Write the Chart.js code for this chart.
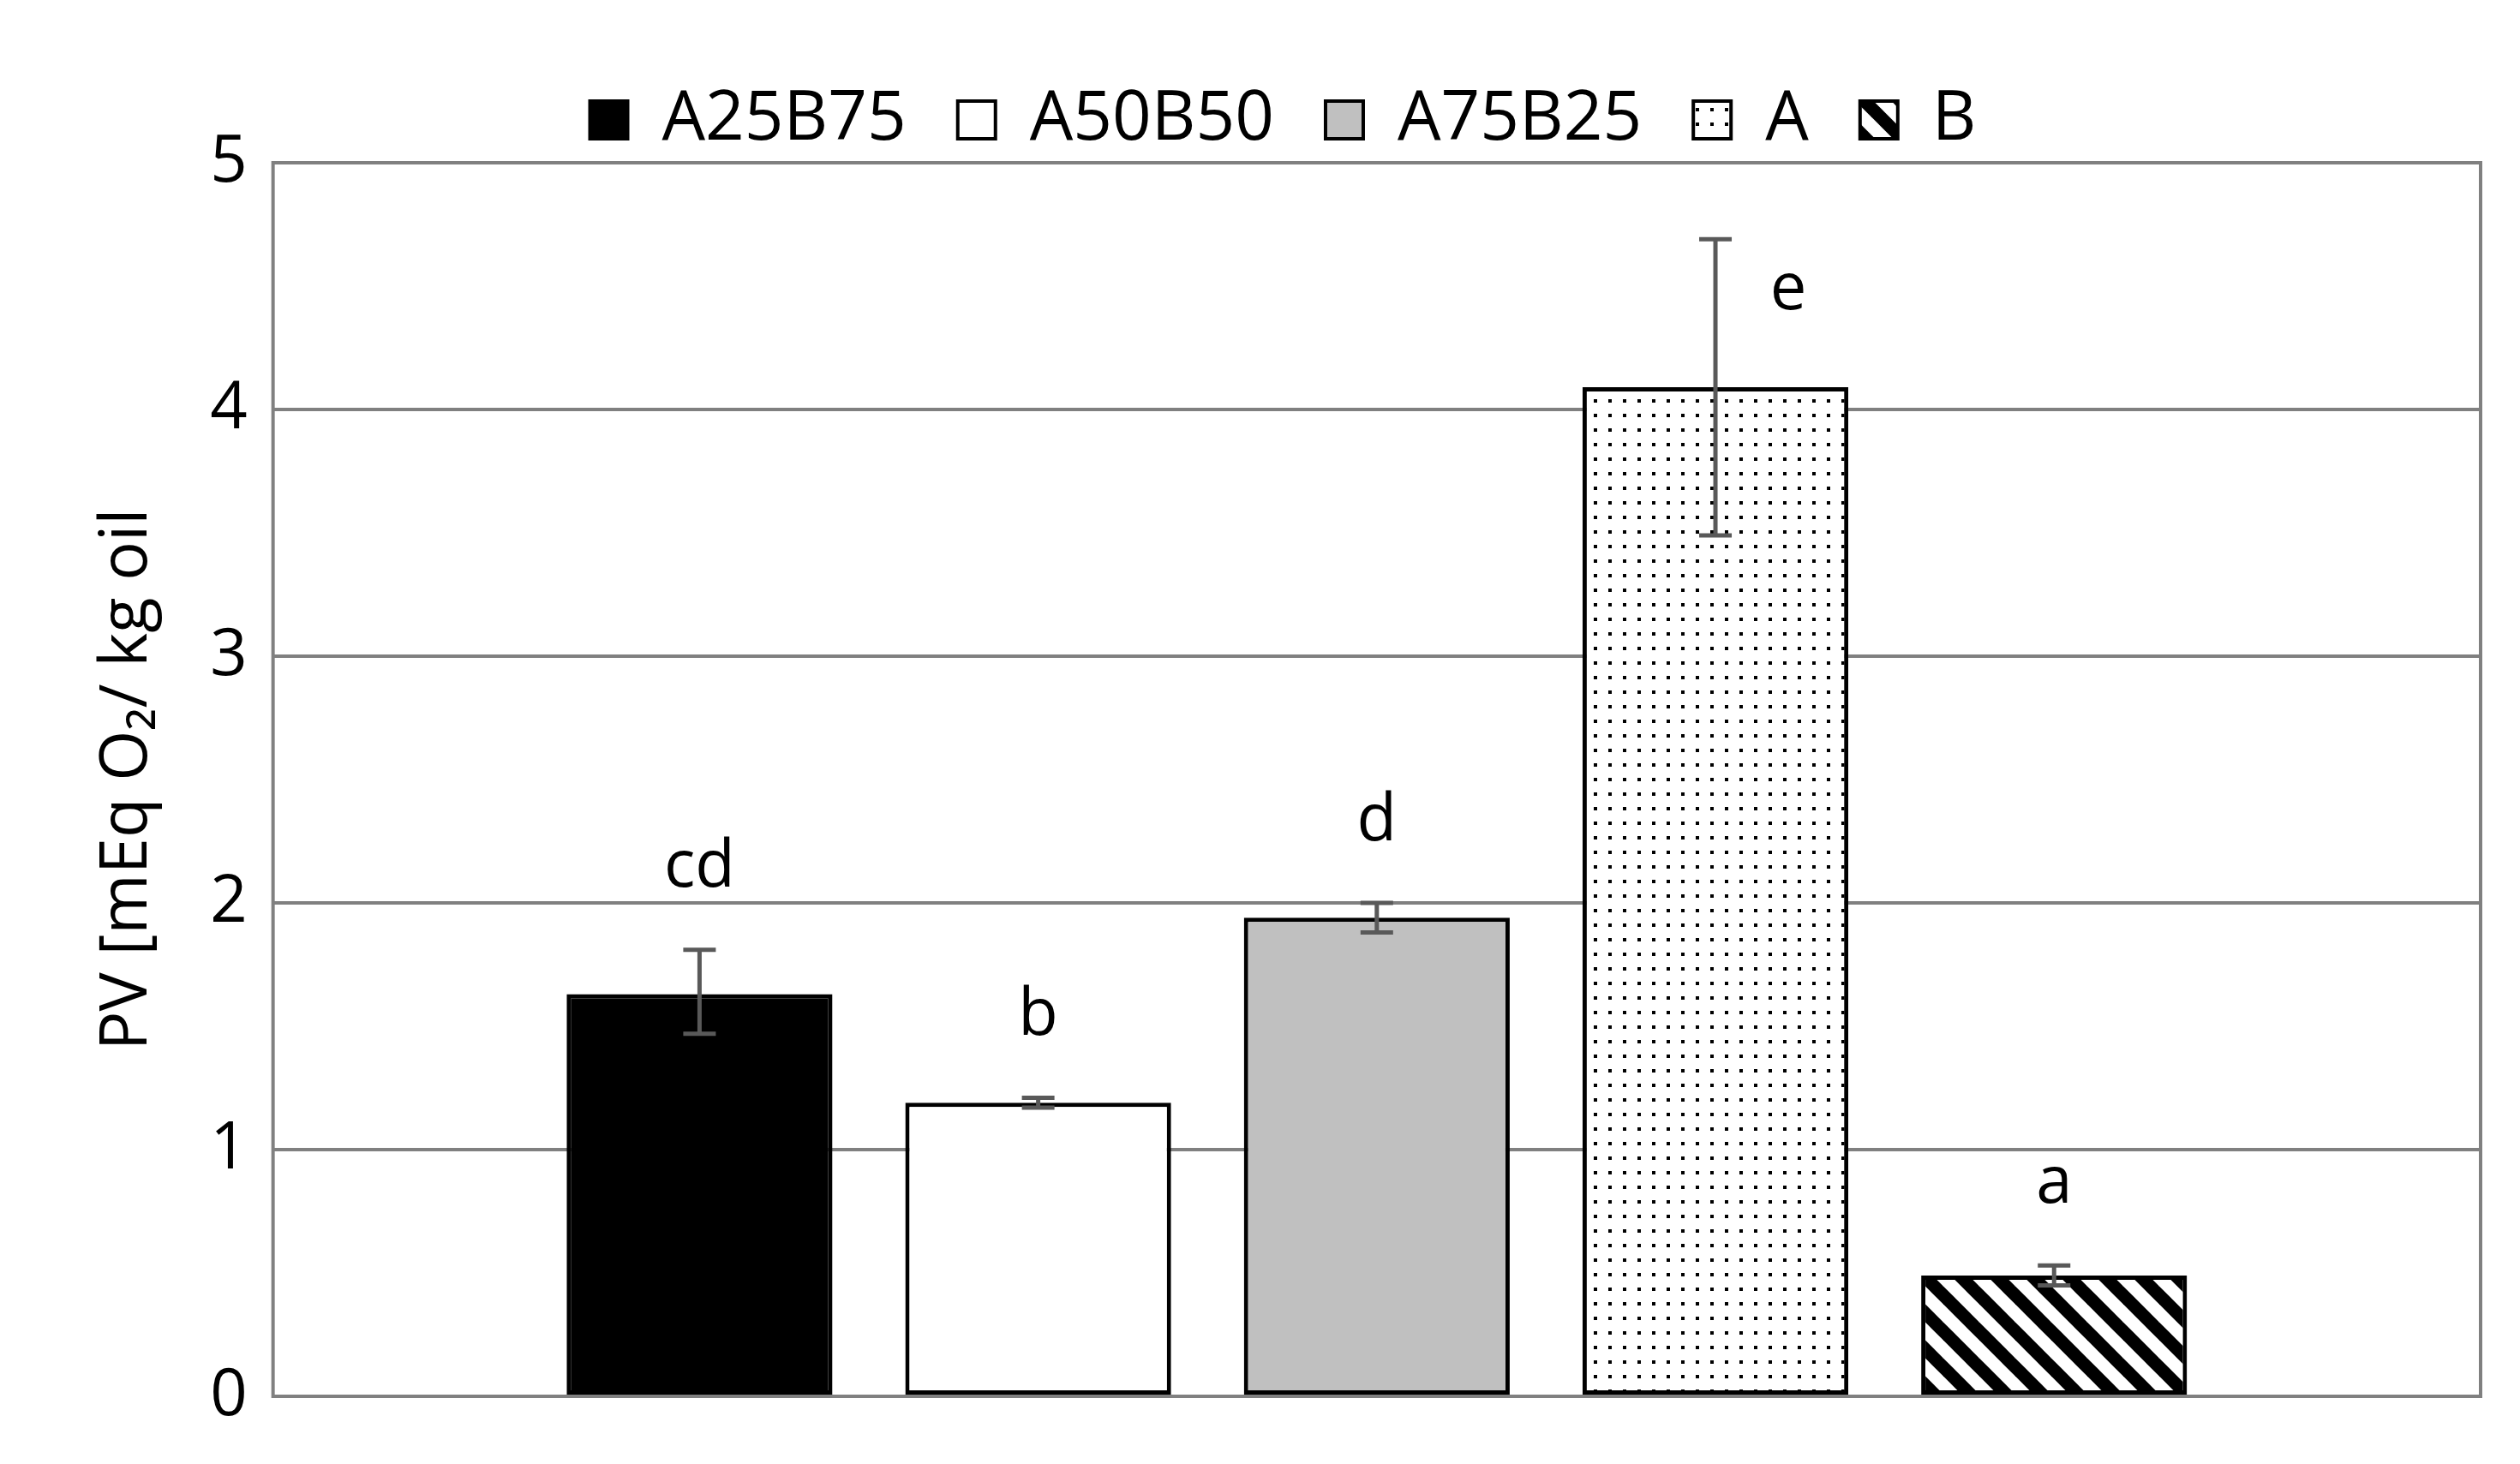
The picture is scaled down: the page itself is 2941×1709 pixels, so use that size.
<!DOCTYPE html>
<html><head><meta charset="utf-8">
<script src="https://cdn.jsdelivr.net/npm/chart.js@4"></script>
<style>html,body{margin:0;padding:0;background:#fff}#w{width:2941px;height:1709px}</style>
</head><body><div id="w"><canvas id="c"></canvas></div>
<script>
const categories = [""];
const seriesNames = ["A25B75","A50B50","A75B25","A","B"];
const values = [1.63, 1.19, 1.94, 4.09, 0.49];
const errLow = [1.47, 1.17, 1.88, 3.49, 0.45];
const errHigh = [1.81, 1.21, 2.00, 4.69, 0.53];
const letters = ["cd","b","d","e","a"];
const yTicks = [0,1,2,3,4,5];

function dots(){const c=document.createElement('canvas');c.width=c.height=17;const x=c.getContext('2d');x.fillStyle='#fff';x.fillRect(0,0,17,17);x.fillStyle='#000';x.fillRect(7,7,4,4);return x.createPattern(c,'repeat');}
function stripes(){const s=42;const c=document.createElement('canvas');c.width=c.height=s;const x=c.getContext('2d');x.fillStyle='#fff';x.fillRect(0,0,s,s);x.strokeStyle='#000';x.lineWidth=15;
for(let k=-2;k<=2;k++){x.beginPath();x.moveTo(k*s-s,-s);x.lineTo(k*s+2*s,2*s);x.stroke();}return x.createPattern(c,'repeat');}
const fills=['#000','#fff','#c0c0c0',dots(),stripes()];
const FONT="'Open Sans', 'Liberation Sans', sans-serif";

const extras={id:'extras',afterDatasetsDraw(ch){const ctx=ch.ctx,y=ch.scales.y;
ch.data.datasets.forEach((d,i)=>{const el=ch.getDatasetMeta(i).data[0];const x=el.x;
const yl=y.getPixelForValue(errLow[i]),yh=y.getPixelForValue(errHigh[i]);
ctx.save();ctx.strokeStyle='#595959';ctx.lineWidth=5;ctx.beginPath();
ctx.moveTo(x,yl);ctx.lineTo(x,yh);ctx.moveTo(x-19,yl);ctx.lineTo(x+19,yl);ctx.moveTo(x-19,yh);ctx.lineTo(x+19,yh);ctx.stroke();
ctx.fillStyle='#000';ctx.font='76px '+FONT;ctx.textAlign='center';ctx.textBaseline='middle';
let lx=x, ly=yh-95; if(i===3){lx=x+85;ly=yh+60;}
ctx.fillText(letters[i],lx,ly);ctx.restore();});
const a=ch.chartArea;ctx.save();ctx.strokeStyle='#808080';ctx.lineWidth=4;ctx.strokeRect(a.left,a.top,a.right-a.left,a.bottom-a.top);ctx.restore();}};

new Chart(document.getElementById('c'),{type:'bar',
data:{labels:categories,datasets:seriesNames.map((n,i)=>({label:n,data:[values[i]],backgroundColor:fills[i],borderColor:'#000',borderWidth:5,borderSkipped:false,categoryPercentage:0.767,barPercentage:0.785}))},
options:{responsive:true,maintainAspectRatio:false,animation:false,
layout:{padding:{left:100,right:46,top:40,bottom:71}},
plugins:{tooltip:{enabled:false},legend:{position:'top',labels:{font:{size:80,family:FONT},color:'#000',boxWidth:44,boxHeight:44,padding:60,
generateLabels(ch){return ch.data.datasets.map((d,i)=>({text:d.label,fillStyle:fills[i],strokeStyle:'#000',lineWidth:4,datasetIndex:i}));}}}},
scales:{x:{ticks:{display:false},grid:{display:false},border:{display:false}},
y:{min:0,max:5,afterBuildTicks(s){s.ticks=yTicks.map(v=>({value:v}));},
ticks:{font:{size:76,family:FONT},color:'#000',padding:30},
grid:{color:'#808080',lineWidth:4,drawTicks:false},border:{display:false},
title:{display:true,text:'PV [mEq O₂/ kg oil',font:{size:76,family:FONT},color:'#000',padding:{bottom:20}}}}},
plugins:[extras]});
</script></body></html>
